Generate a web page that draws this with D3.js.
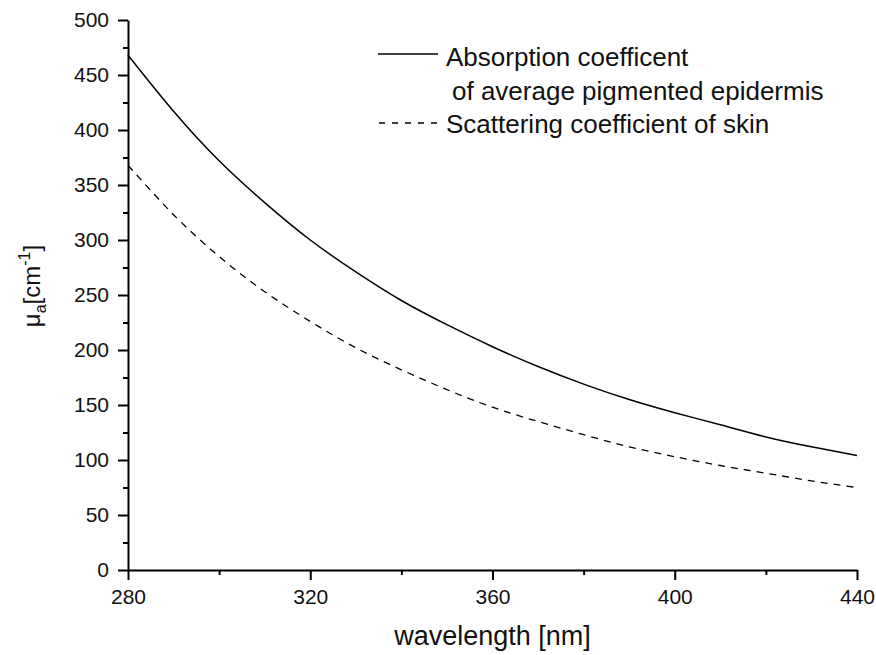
<!DOCTYPE html>
<html>
<head>
<meta charset="utf-8">
<script src="https://cdn.jsdelivr.net/npm/d3@7"></script>
<style>
  body { margin: 0; background: #fff; }
  svg { font-family: "Liberation Sans", Arial, sans-serif; }
</style>
</head>
<body>
<svg id="chart" width="876" height="655"></svg>
<script>
// wavelengths (nm)
const wavelengths = [280, 290, 300, 310, 320, 330, 340, 350, 360, 370, 380, 390, 400, 410, 420, 430, 440];
// absorption coefficent of average pigmented epidermis (cm^-1)
const absorption = [468, 417, 372, 334, 300, 271, 245, 223, 203, 185, 169, 155, 143, 132, 121, 112, 104];
// scattering coefficient of skin (cm^-1)
const scattering = [368, 323, 285, 253, 226, 202, 182, 164, 148, 135, 123, 112, 103, 95, 88, 81, 75];

const xMajor = [280, 320, 360, 400, 440];
const xMinor = [300, 340, 380, 420];
const yMajor = [0, 50, 100, 150, 200, 250, 300, 350, 400, 450, 500];
const yMinor = [25, 75, 125, 175, 225, 275, 325, 375, 425, 475];

const svg = d3.select("#chart");
const plot = { left: 128, right: 857, top: 20, bottom: 570 };

let x = d3.scaleLinear().domain([280, 440]).range([plot.left, plot.right]);
let y = d3.scaleLinear().domain([0, 500]).range([plot.bottom, plot.top]);

// axes
let xAxis = svg.append("g").attr("transform", "translate(0," + plot.bottom + ")")
  .call(d3.axisBottom(x).tickValues(xMajor).tickSize(10).tickSizeOuter(0).tickPadding(6));
svg.append("g").attr("transform", "translate(0," + plot.bottom + ")")
  .call(d3.axisBottom(x).tickValues(xMinor).tickSize(5).tickSizeOuter(0).tickFormat(""))
  .select(".domain").remove();

let yAxis = svg.append("g").attr("transform", "translate(" + plot.left + ",0)")
  .call(d3.axisLeft(y).tickValues(yMajor).tickSize(10).tickSizeOuter(0).tickPadding(9));
svg.append("g").attr("transform", "translate(" + plot.left + ",0)")
  .call(d3.axisLeft(y).tickValues(yMinor).tickSize(5).tickSizeOuter(0).tickFormat(""))
  .select(".domain").remove();

svg.selectAll(".domain").attr("stroke", "#000").attr("stroke-width", 2);
svg.selectAll(".tick line").attr("stroke", "#000").attr("stroke-width", 2);
svg.selectAll(".tick text").attr("font-size", 21).attr("fill", "#111")
  .style("font-family", "'Liberation Sans', Arial, sans-serif");
xAxis.selectAll(".tick text").attr("dy", "0.85em");

// lines
const line = (vals) => d3.line()
  .x((d, i) => x(wavelengths[i]))
  .y((d) => y(d))
  .curve(d3.curveNatural)(vals);

svg.append("path")
  .attr("fill", "none").attr("stroke", "#000").attr("stroke-width", 1.5)
  .attr("d", line(absorption));

svg.append("path")
  .attr("fill", "none").attr("stroke", "#000").attr("stroke-width", 1.3)
  .attr("stroke-dasharray", "7,6")
  .attr("d", line(scattering));

// legend
const legend = svg.append("g").attr("font-size", 26).attr("fill", "#111");
legend.append("line").attr("x1", 378).attr("x2", 438).attr("y1", 54).attr("y2", 54)
  .attr("stroke", "#000").attr("stroke-width", 1.5);
legend.append("text").attr("x", 446).attr("y", 66).text("Absorption coefficent");
legend.append("text").attr("x", 452).attr("y", 100).text("of average pigmented epidermis");
legend.append("line").attr("x1", 379).attr("x2", 438).attr("y1", 123).attr("y2", 123)
  .attr("stroke", "#000").attr("stroke-width", 1.3).attr("stroke-dasharray", "6,7");
legend.append("text").attr("x", 446).attr("y", 133).text("Scattering coefficient of skin");

// axis titles
svg.append("text")
  .attr("x", (plot.left + plot.right) / 2).attr("y", 645)
  .attr("text-anchor", "middle").attr("font-size", 27).attr("fill", "#111")
  .text("wavelength [nm]");

const yTitle = svg.append("text")
  .attr("transform", "translate(40,286) rotate(-90)")
  .attr("text-anchor", "middle").attr("font-size", 24).attr("fill", "#111");
yTitle.append("tspan").text("μ");
yTitle.append("tspan").attr("font-size", 16).attr("dy", 6).text("a");
yTitle.append("tspan").attr("dy", -6).text("[cm");
yTitle.append("tspan").attr("font-size", 16).attr("dy", -10).text("-1");
yTitle.append("tspan").attr("dy", 10).text("]");
</script>
</body>
</html>
